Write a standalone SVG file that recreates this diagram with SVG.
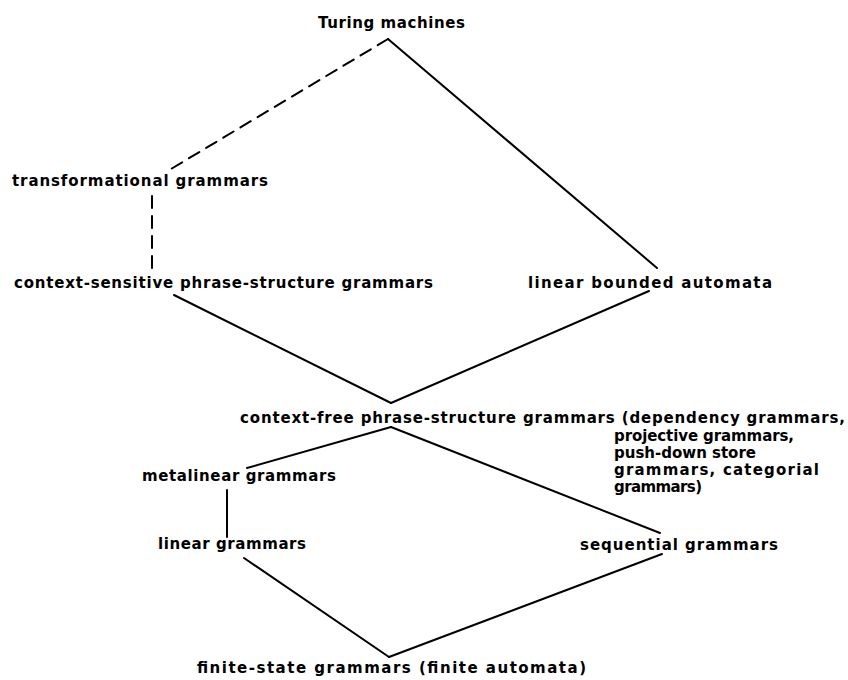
<svg xmlns="http://www.w3.org/2000/svg" width="848" height="680" viewBox="0 0 848 680">
<style>
.t{font-family:"DejaVu Sans","Liberation Sans",Arial,sans-serif;font-size:15px;font-weight:bold;fill:#000}
.l{stroke:#000;stroke-width:2;fill:none;stroke-linecap:round}
.d{stroke-dasharray:12 8}
</style>
<rect width="848" height="680" fill="#fff"/>
<g id="connectors">
<line class="l d" x1="388" y1="39" x2="166" y2="172"/>
<line class="l d" x1="152" y1="196" x2="152" y2="272"/>
<line class="l" x1="388" y1="39" x2="657" y2="268"/>
<line class="l" x1="174" y1="295" x2="391" y2="403"/>
<line class="l" x1="649" y1="291" x2="391" y2="403"/>
<line class="l" x1="391" y1="427" x2="247" y2="468"/>
<line class="l" x1="391" y1="427" x2="660" y2="533"/>
<line class="l" x1="227" y1="490" x2="227" y2="537"/>
<line class="l" x1="244" y1="558" x2="389" y2="657"/>
<line class="l" x1="662" y1="554" x2="389" y2="657"/>
</g>
<g id="turing"><text class="t" x="318" y="28" textLength="147" lengthAdjust="spacing">Turing machines</text></g>
<g id="transformational"><text class="t" x="12" y="186" textLength="256" lengthAdjust="spacing">transformational  grammars</text></g>
<g id="context-sensitive"><text class="t" x="14" y="288" textLength="419" lengthAdjust="spacing">context-sensitive phrase-structure grammars</text></g>
<g id="lba"><text class="t" x="528" y="288" textLength="244" lengthAdjust="spacing">linear bounded automata</text></g>
<g id="context-free">
<text class="t" x="240" y="423" textLength="605" lengthAdjust="spacing">context-free phrase-structure grammars (dependency grammars,</text>
<text class="t" x="614" y="441" textLength="180" lengthAdjust="spacing">projective grammars,</text>
<text class="t" x="614" y="458" textLength="142" lengthAdjust="spacing">push-down store</text>
<text class="t" x="614" y="475" textLength="205" lengthAdjust="spacing">grammars, categorial</text>
<text class="t" x="614" y="492" textLength="88" lengthAdjust="spacing">grammars)</text>
</g>
<g id="metalinear"><text class="t" x="142" y="481" textLength="194" lengthAdjust="spacing">metalinear  grammars</text></g>
<g id="linear"><text class="t" x="158" y="549" textLength="148" lengthAdjust="spacing">linear grammars</text></g>
<g id="sequential"><text class="t" x="580" y="550" textLength="198" lengthAdjust="spacing">sequential  grammars</text></g>
<g id="finite-state"><text class="t" x="197" y="673" textLength="389" lengthAdjust="spacing">finite-state grammars (finite automata)</text></g>
</svg>
